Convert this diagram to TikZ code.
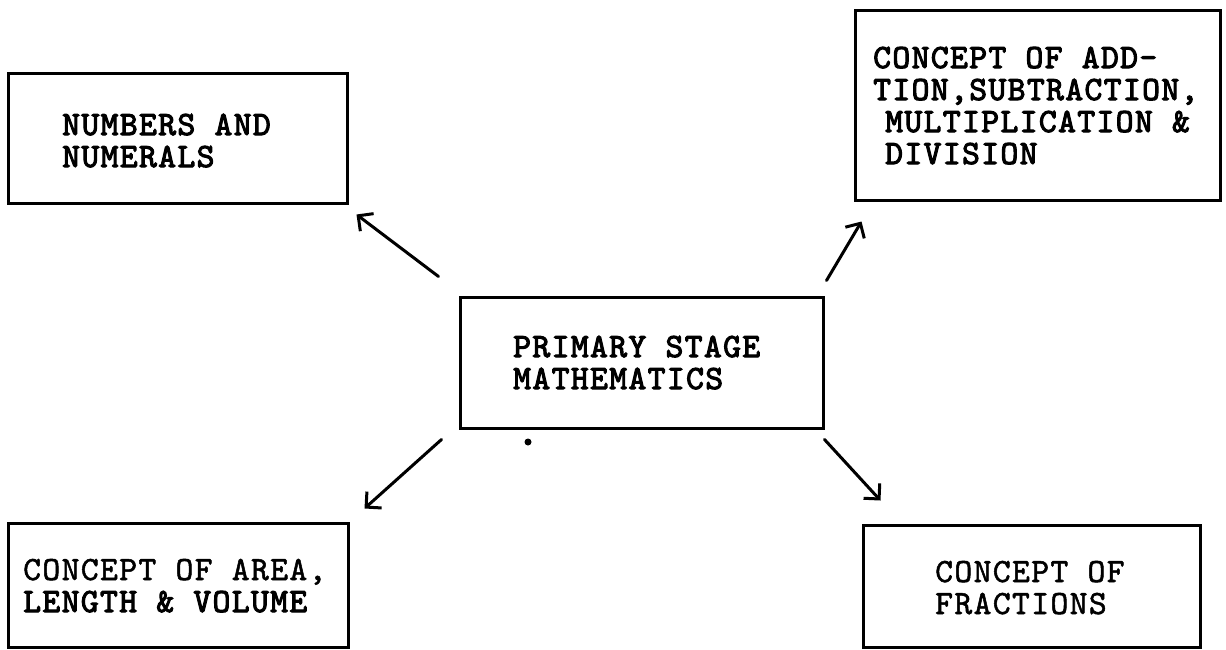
\documentclass[tikz,border=0pt]{standalone}
\usepackage{fontspec}
\usetikzlibrary{arrows.meta,calc}

% typewriter lettering: Latin Modern Mono, thickened and slightly spaced
\newfontfamily\twheavy{lmmono10-regular.otf}[FakeBold=3,LetterSpace=4]
\newfontfamily\twlight{lmmono10-regular.otf}[FakeBold=1.5,LetterSpace=4]
\newcommand{\typed}{\fontsize{34}{32}\selectfont\twheavy}
\newcommand{\typedlight}{\fontsize{34}{32}\selectfont\twlight}

\tikzset{
  box/.style={draw, line width=3pt, inner sep=0pt, rectangle},
  txt/.style={anchor=base west, inner sep=0pt, font=\typed},
  faint/.style={font=\typedlight},
  link/.style={line width=3pt, line cap=round,
    -{Straight Barb[length=11pt,width=22pt,line width=3pt]}}
}

\begin{document}
\begin{tikzpicture}[x=1pt,y=-1pt]
\useasboundingbox (0,0) rectangle (1226,649);

% frames
\node[box, minimum width=339pt, minimum height=130pt] (num)  at (177.5,138) {};
\node[box, minimum width=365pt, minimum height=190pt] (ops)  at (1037.5,105) {};
\node[box, minimum width=363pt, minimum height=131pt] (ctr)  at (641.5,362.5) {};
\node[box, minimum width=340pt, minimum height=124pt] (area) at (178,585) {};
\node[box, minimum width=337pt, minimum height=122pt] (frac) at (1031.5,586) {};

% labels
\node[txt] (numT) at (62,135) {\vtop{\hbox{NUMBERS AND}\hbox{NUMERALS}}};
\node[txt] (opsT) at (873,68) {\vtop{\hbox{CONCEPT OF ADD-}\hbox{TION,SUBTRACTION,}%
  \hbox{\hspace{12pt}MULTIPLICATION \&}\hbox{\hspace{12pt}DIVISION}}};
\node[txt] (ctrT) at (513,357) {\vtop{\hbox{PRIMARY STAGE}\hbox{MATHEMATICS}}};
\node[txt] (areaT) at (23,580) {\vtop{\hbox{\typedlight CONCEPT OF AREA,}\hbox{LENGTH \& VOLUME}}};
\node[txt,faint] (fracT) at (935,582) {\vtop{\hbox{CONCEPT OF}\hbox{FRACTIONS}}};

% stray dot below the centre frame
\fill (528,442) circle (3.5pt);

% connectors
\draw[link] ($(ctr.north west)+(-20,-19)$) -- ($(num.south east)+(8,10)$);
\draw[link] ($(ctr.north east)+(2,-15)$) -- ($(ops.south west)+(8,20)$);
\draw[link] ($(ctr.south west)+(-17,10)$) -- ($(area.north east)+(15,-13)$);
\draw[link] ($(ctr.south east)+(0,10)$) -- ($(frac.north west)+(19,-23)$);
\end{tikzpicture}
\end{document}
